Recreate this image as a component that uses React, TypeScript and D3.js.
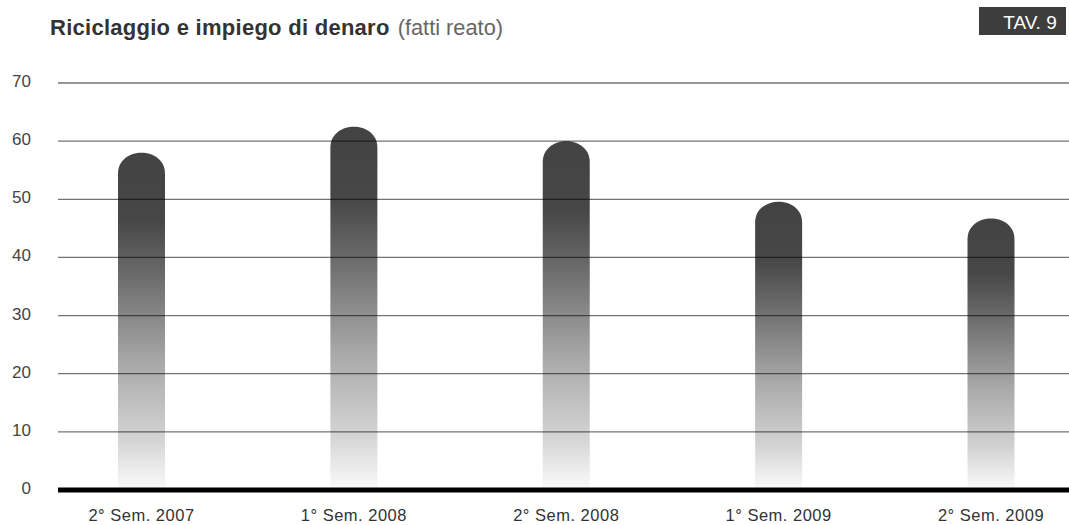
import React from 'react';
import * as d3 from 'd3';

// dati
const categories = ['2° Sem. 2007', '1° Sem. 2008', '2° Sem. 2008', '1° Sem. 2009', '2° Sem. 2009'];
const values = [58, 62.5, 60, 49.6, 46.7];
const yTicks = [0, 10, 20, 30, 40, 50, 60, 70];

const W = 1069;
const H = 525;
const font = "'Liberation Sans', Arial, Helvetica, sans-serif";

const App = () => {
  const plotLeft = 58;
  const plotRight = W;

  const x = d3.scalePoint<string>()
    .domain(categories)
    .range([141.5, 991]);

  const y = d3.scaleLinear()
    .domain([0, 70])
    .range([490, 83]);

  const barW = 47;
  const capH = 21;

  // barra con cima arrotondata
  const barPath = (cx: number, top: number, bottom: number) => {
    const l = cx - barW / 2;
    const r = cx + barW / 2;
    const p = d3.path();
    p.moveTo(l, bottom);
    p.lineTo(l, top + capH);
    p.bezierCurveTo(l, top - capH * 0.33, r, top - capH * 0.33, r, top + capH);
    p.lineTo(r, bottom);
    p.closePath();
    return p.toString();
  };

  return (
    <svg width={W} height={H} style={{ position: 'absolute', left: 0, top: 0, background: '#fff' }}>
      <defs>
        <linearGradient id="barGrad" x1="0" y1="0" x2="0" y2="1">
          <stop offset="0" stopColor="#434343" />
          <stop offset="0.2" stopColor="#474747" />
          <stop offset="0.35" stopColor="#686868" />
          <stop offset="0.62" stopColor="#a8a8a8" />
          <stop offset="0.85" stopColor="#d4d4d4" />
          <stop offset="1" stopColor="#fbfbfb" />
        </linearGradient>
      </defs>

      {/* titolo */}
      <text x={50} y={35} fontFamily={font} fontSize={22} fontWeight="bold" fill="#333" letterSpacing={0.27}>
        Riciclaggio e impiego di denaro
        <tspan fontWeight="normal" fill="#666" fontSize={21.8} letterSpacing={0} dx={8}>(fatti reato)</tspan>
      </text>

      {/* etichetta tavola */}
      <rect x={979} y={7} width={87} height={28} fill="#3d3d3d" />
      <text x={1030} y={29} textAnchor="middle" fontFamily={font} fontSize={19} fill="#fff">TAV. 9</text>

      {/* barre */}
      {categories.map((c, i) => (
        <path key={c} d={barPath(x(c)!, y(values[i]), y(0))} fill="url(#barGrad)" />
      ))}

      {/* griglia */}
      {yTicks.filter(t => t > 0).map(t => (
        <line key={t} x1={plotLeft} x2={plotRight} y1={y(t)} y2={y(t)}
          stroke="#000" strokeOpacity={0.55} strokeWidth={1.3} />
      ))}
      <line x1={plotLeft} x2={plotRight} y1={y(0)} y2={y(0)} stroke="#000" strokeWidth={5} />

      {/* asse y */}
      {yTicks.map(t => (
        <text key={t} x={31} y={y(t) - 2} dy="0.35em" textAnchor="end"
          fontFamily={font} fontSize={17} fill="#444">{t}</text>
      ))}

      {/* asse x */}
      {categories.map(c => (
        <text key={c} x={x(c)} y={521} textAnchor="middle" fontFamily={font}
          fontSize={16.5} letterSpacing={0.5} fill="#333">{c}</text>
      ))}
    </svg>
  );
};

export default App;
